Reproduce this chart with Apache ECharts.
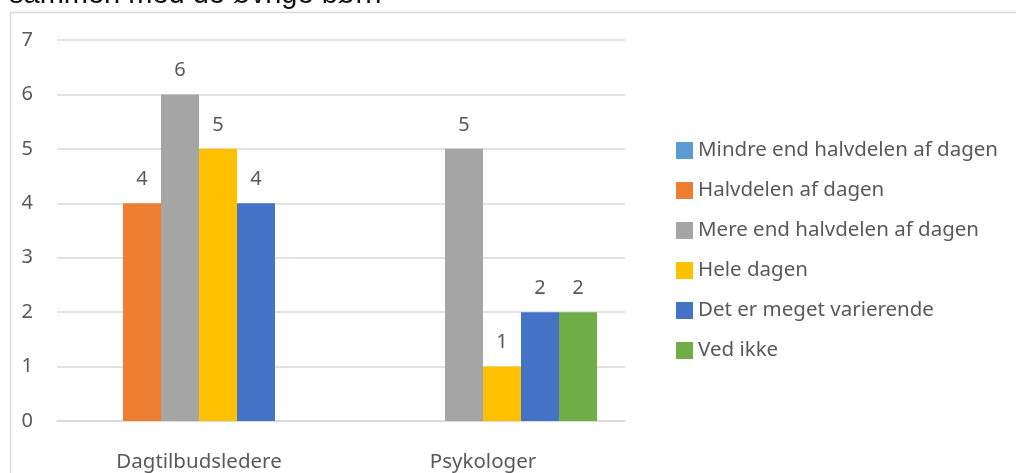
<!DOCTYPE html>
<html>
<head>
<meta charset="utf-8">
<script src="https://cdn.jsdelivr.net/npm/echarts@6/dist/echarts.min.js"></script>
<style>
  html, body { margin: 0; padding: 0; background: #fff; }
  #chart { width: 1016px; height: 473px; }
</style>
</head>
<body>
<div id="chart"></div>
<script>
// data
var categories = ['Dagtilbudsledere', 'Psykologer'];
var seriesNames = [
  'Mindre end halvdelen af dagen',
  'Halvdelen af dagen',
  'Mere end halvdelen af dagen',
  'Hele dagen',
  'Det er meget varierende',
  'Ved ikke'
];
var mindreEnd = [0, 0];
var halvdelen = [4, 0];
var mereEnd = [6, 5];
var heleDagen = [5, 1];
var varierende = [4, 2];
var vedIkke = [0, 2];
var yTicks = [0, 7, 1]; // min, max, step

var colors = ['#5B9BD5', '#ED7D31', '#A5A5A5', '#FFC000', '#4472C4', '#70AD47'];
var values = [mindreEnd, halvdelen, mereEnd, heleDagen, varierende, vedIkke];
var textColor = '#595959';
var font = 'Noto Sans';

var series = values.map(function (vals, i) {
  return {
    name: seriesNames[i],
    type: 'bar',
    data: vals,
    barGap: '0%',
    barCategoryGap: '19.7%',
    itemStyle: { color: colors[i] },
    label: {
      show: true,
      position: 'top',
      distance: 14,
      color: textColor,
      fontFamily: font,
      fontSize: 20,
      formatter: function (p) { return p.value === 0 ? '' : p.value; }
    }
  };
});

var chart = echarts.init(document.getElementById('chart'));
chart.setOption({
  animation: false,
  color: colors,
  graphic: [
    {
      type: 'rect',
      shape: { x: 10.5, y: 12.5, width: 1200, height: 600 },
      style: { fill: 'none', stroke: '#D9D9D9', lineWidth: 1.5 },
      silent: true
    },
    {
      type: 'text',
      x: 9,
      y: -5,
      style: {
        text: 'sammen med de øvrige børn',
        font: '29px "Liberation Sans"',
        fill: '#111',
        verticalAlign: 'middle'
      }
    }
  ],
  grid: { left: 57, right: 391, top: 40, bottom: 51 },
  legend: {
    orient: 'vertical',
    left: 671,
    top: 135,
    itemWidth: 17,
    itemHeight: 17,
    itemGap: 19,
    icon: 'rect',
    textStyle: { color: textColor, fontFamily: font, fontSize: 20.5, lineHeight: 20 },
    data: seriesNames
  },
  xAxis: {
    type: 'category',
    data: categories,
    axisLine: { lineStyle: { color: '#D9D9D9', width: 1.5 } },
    axisTick: { show: false },
    axisLabel: { color: textColor, fontFamily: font, fontSize: 20.5, margin: 31 }
  },
  yAxis: {
    type: 'value',
    min: yTicks[0],
    max: yTicks[1],
    interval: yTicks[2],
    axisLine: { show: false },
    axisTick: { show: false },
    splitLine: { lineStyle: { color: '#D9D9D9', width: 1.5 } },
    axisLabel: { color: textColor, fontFamily: font, fontSize: 20, margin: 24 }
  },
  series: series
});
</script>
</body>
</html>
